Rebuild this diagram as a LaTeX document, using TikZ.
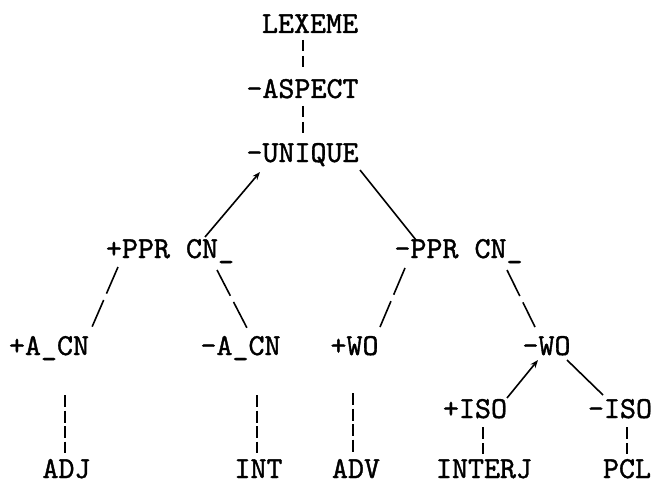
\documentclass[tikz,border=0pt]{standalone}
\usepackage{fontspec}
\newfontfamily\twfont{lmmono10-regular.otf}[FakeBold=1.2]
\usetikzlibrary{arrows.meta}
\begin{document}
\begin{tikzpicture}[x=1pt,y=-1pt,
  lbl/.style={anchor=base,inner sep=0pt,font=\fontsize{30.5}{30.5}\selectfont\twfont},
  edge/.style={line width=1.6pt},
  vdash/.style={line width=1.6pt,dash pattern=on 12pt off 3.5pt},
  vdashshort/.style={line width=1.6pt,dash pattern=on 11.5pt off 4.5pt},
  ddash/.style={line width=1.6pt,dash pattern=on 29pt off 7pt},
  tip/.style={-{Stealth[length=8pt,width=6pt]}}]
\useasboundingbox (0,0) rectangle (653,484);
\fill[white] (0,0) rectangle (653,484);
% nodes
\node[lbl] (lex)   at (310,33)  {LEXEME};
\node[lbl] (asp)   at (302.5,98) {-ASPECT};
\node[lbl] (uni)   at (302.5,162) {-UNIQUE};
\node[lbl] (pprp)  at (170,258) {+PPR CN\_};
\node[lbl] (pprn)  at (458.5,258) {-PPR CN\_};
\node[lbl] (acnp)  at (49,355) {+A\_CN};
\node[lbl] (acnn)  at (240.5,355) {-A\_CN};
\node[lbl] (wop)   at (354.5,355) {+WO};
\node[lbl] (won)   at (546.5,355) {-WO};
\node[lbl] (isop)  at (475,418) {+ISO};
\node[lbl] (ison)  at (620,418) {-ISO};
\node[lbl] (adj)   at (66.5,478) {ADJ};
\node[lbl] (int)   at (258.5,478) {INT};
\node[lbl] (adv)   at (356,478) {ADV};
\node[lbl] (interj) at (484,478) {INTERJ};
\node[lbl] (pcl)   at (627,478) {PCL};
% connectors
\draw[vdashshort] ([shift={(-7,7)}]lex.base) -- ([shift={(0.5,-30)}]asp.base);
\draw[vdashshort] ([shift={(0.5,8)}]asp.base) -- ([shift={(0.5,-29)}]uni.base);
\draw[edge,tip] ([shift={(35,-21)}]pprp.base) -- ([shift={(-42.5,10)}]uni.base);
\draw[edge] ([shift={(57.5,8)}]uni.base) -- ([shift={(-42.5,-18)}]pprn.base);
\draw[ddash] ([shift={(-52,9)}]pprp.base) -- ([shift={(43,-28)}]acnp.base);
\draw[ddash] ([shift={(47,12)}]pprp.base) -- ([shift={(6.5,-27)}]acnn.base);
\draw[ddash] ([shift={(-53.5,10)}]pprn.base) -- ([shift={(25.5,-28)}]wop.base);
\draw[ddash] ([shift={(48.5,12)}]pprn.base) -- ([shift={(-11.5,-28)}]won.base);
\draw[edge,tip] ([shift={(32,-20)}]isop.base) -- ([shift={(-8.5,5)}]won.base);
\draw[edge] ([shift={(20.5,5)}]won.base) -- ([shift={(-17,-23)}]ison.base);
\draw[vdash] ([shift={(16,40)}]acnp.base) -- ([shift={(-1.5,-25)}]adj.base);
\draw[vdash] ([shift={(16.5,40)}]acnn.base) -- ([shift={(-1.5,-25)}]int.base);
\draw[vdash] ([shift={(-1.5,38)}]wop.base) -- ([shift={(-3,-25)}]adv.base);
\draw[vdashshort] ([shift={(8,9)}]isop.base) -- ([shift={(-1,-24)}]interj.base);
\draw[vdashshort] ([shift={(7,9)}]ison.base) -- ([shift={(0,-24)}]pcl.base);
\end{tikzpicture}
\end{document}
